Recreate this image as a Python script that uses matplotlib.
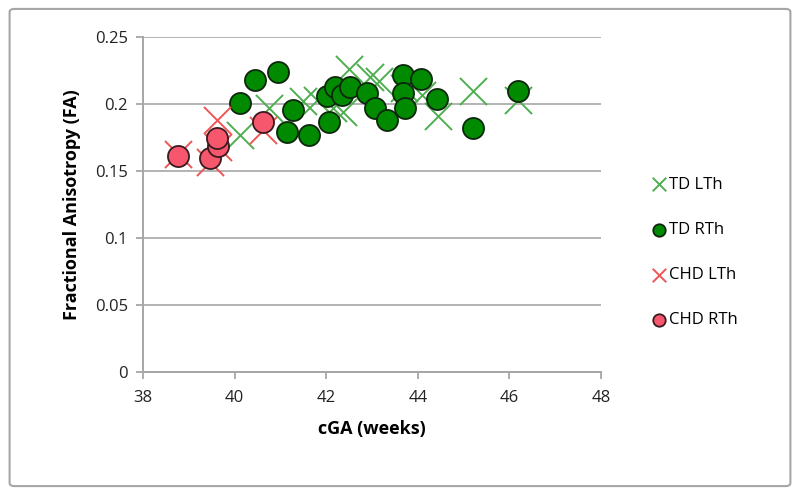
import matplotlib
matplotlib.use("Agg")
import matplotlib.pyplot as plt
from matplotlib.patches import FancyBboxPatch

# Data
td_lth_x = [40.12, 40.75, 41.50, 41.80, 42.15, 42.37, 42.50, 42.95, 43.15, 43.70, 44.09, 44.44, 45.20, 46.19]
td_lth_y = [0.177, 0.197, 0.202, 0.203, 0.197, 0.194, 0.226, 0.220, 0.217, 0.212, 0.207, 0.191, 0.210, 0.203]

td_rth_x = [40.12, 40.45, 40.95, 41.14, 41.28, 41.62, 42.02, 42.06, 42.19, 42.35, 42.52,
            42.89, 43.07, 43.33, 43.68, 43.68, 43.72, 44.07, 44.42, 45.20, 46.19]
td_rth_y = [0.201, 0.218, 0.224, 0.179, 0.196, 0.177, 0.206, 0.187, 0.213, 0.207, 0.213,
            0.208, 0.197, 0.188, 0.222, 0.208, 0.197, 0.219, 0.204, 0.182, 0.210]

chd_lth_x = [38.77, 39.45, 39.62, 39.64, 40.62]
chd_lth_y = [0.163, 0.157, 0.188, 0.168, 0.181]

chd_rth_x = [38.77, 39.45, 39.64, 39.62, 40.62]
chd_rth_y = [0.161, 0.160, 0.169, 0.175, 0.187]

x_ticks = [38, 40, 42, 44, 46, 48]
y_ticks = [0, 0.05, 0.1, 0.15, 0.2, 0.25]
y_labels = ["0", "0.05", "0.1", "0.15", "0.2", "0.25"]

plt.rcParams["font.family"] = ["Open Sans", "DejaVu Sans"]

fig = plt.figure(figsize=(8, 4.96), dpi=100)
ax = fig.add_axes([0.179, 0.25, 0.572, 0.675])

# outer chart border (Excel style)
frame = FancyBboxPatch((0.012, 0.02), 0.976, 0.962, boxstyle="round,pad=0,rounding_size=0.006",
                       transform=fig.transFigure, facecolor="none", edgecolor="#a6a6a6", linewidth=1.5)
fig.patches.append(frame)

ax.scatter(td_lth_x, td_lth_y, marker="x", s=380, color="#4fae4f", linewidths=1.4,
           label="TD LTh", zorder=3)
ax.scatter(td_rth_x, td_rth_y, marker="o", s=230, facecolor="#008a00", edgecolor="#0d260d",
           linewidths=1.3, label="TD RTh", zorder=4)
ax.scatter(chd_lth_x, chd_lth_y, marker="x", s=380, color="#ee5555", linewidths=1.4,
           label="CHD LTh", zorder=5)
ax.scatter(chd_rth_x, chd_rth_y, marker="o", s=230, facecolor="#f7576c", edgecolor="#3a1a1e",
           linewidths=1.3, label="CHD RTh", zorder=6)

ax.set_xlim(38, 48)
ax.set_ylim(0, 0.25)
ax.set_xticks(x_ticks)
ax.set_yticks(y_ticks)
ax.set_yticklabels(y_labels)
ax.tick_params(axis="both", labelsize=12, colors="#a6a6a6", labelcolor="#222222",
               direction="out", length=5, width=1.3)
ax.tick_params(axis="x", pad=8)
ax.tick_params(axis="y", pad=6)

ax.grid(True, axis="y", color="#b3b3b3", linewidth=1.4)
ax.set_axisbelow(True)
for side in ["top", "right"]:
    ax.spines[side].set_visible(False)
for side in ["left", "bottom"]:
    ax.spines[side].set_color("#a6a6a6")
    ax.spines[side].set_linewidth(1.4)

ax.set_xlabel("cGA (weeks)", fontsize=13, fontweight="bold", labelpad=10)
ax.set_ylabel("Fractional Anisotropy (FA)", fontsize=13, fontweight="bold", labelpad=10)

leg = ax.legend(loc="center left", bbox_to_anchor=(1.074, 0.357), frameon=False,
                fontsize=12, handletextpad=0.05, labelspacing=1.75,
                handlelength=1.1)
for h, size in zip(leg.legend_handles, [95, 80, 95, 80]):
    h.set_sizes([size])

fig.savefig("out.png", dpi=100)
